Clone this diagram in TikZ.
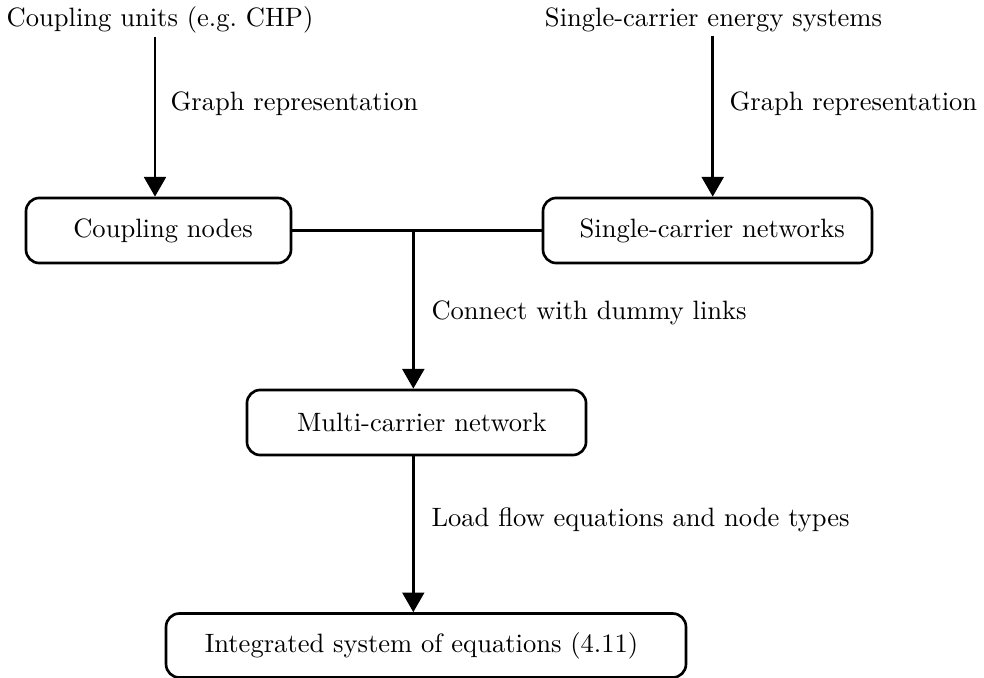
\documentclass[tikz,border=0pt]{standalone}
\usetikzlibrary{arrows.meta}
\begin{document}
\begin{tikzpicture}[x=0.3766pt, y=-0.3766pt,
  box/.style={draw, line width=1pt, rounded corners=5pt, inner sep=0pt},
  arr/.style={line width=1pt, -{Triangle[width=8.2pt,length=7.4pt]}},
  conn/.style={line width=1pt},
  lbl/.style={anchor=base west, inner sep=0pt},
  ttl/.style={anchor=base, inner sep=1pt}]
\useasboundingbox (0,0) rectangle (984,678);
% top texts
\node[ttl] (ct) at (160,27) {Coupling units (e.g.\ CHP)};
\node[ttl] (st) at (713.5,27) {Single-carrier energy systems};
% boxes
\node[box, minimum width=99.8pt, minimum height=24.5pt] (cn) at (158.5,230.5) {\hspace*{3.4pt}Coupling nodes};
\node[box, minimum width=123.9pt, minimum height=24.5pt] (sn) at (707.5,230.5) {\hspace*{3.6pt}Single-carrier networks};
\node[box, minimum width=127.7pt, minimum height=24.5pt] (mn) at (416.5,422.5) {\hspace*{4pt}Multi-carrier network};
\node[box, minimum width=195.8pt, minimum height=24.1pt] (in) at (426,645.5) {Integrated system of equations (4.11)\hspace*{3.4pt}};
% helper coordinates
\coordinate (xl) at (155,0);
\coordinate (xr) at (712.7,0);
\coordinate (j) at (413.3,230.5);
% connectors
\draw[arr] (ct.south -| xl) -- (cn.north -| xl);
\draw[arr] (st.south -| xr) -- (sn.north -| xr);
\draw[conn] (cn.east) -- (sn.west);
\draw[arr] (j) -- (mn.north -| j);
\draw[arr] (mn.south -| j) -- (in.north -| j);
% labels
\node[lbl] (l1) at (170,111) {Graph representation};
\node[lbl] (l2) at (729,111) {Graph representation};
\node[lbl] (l3) at (431,319) {Connect with dummy links};
\node[lbl] (l4) at (431,526) {Load flow equations and node types};
\end{tikzpicture}
\end{document}
